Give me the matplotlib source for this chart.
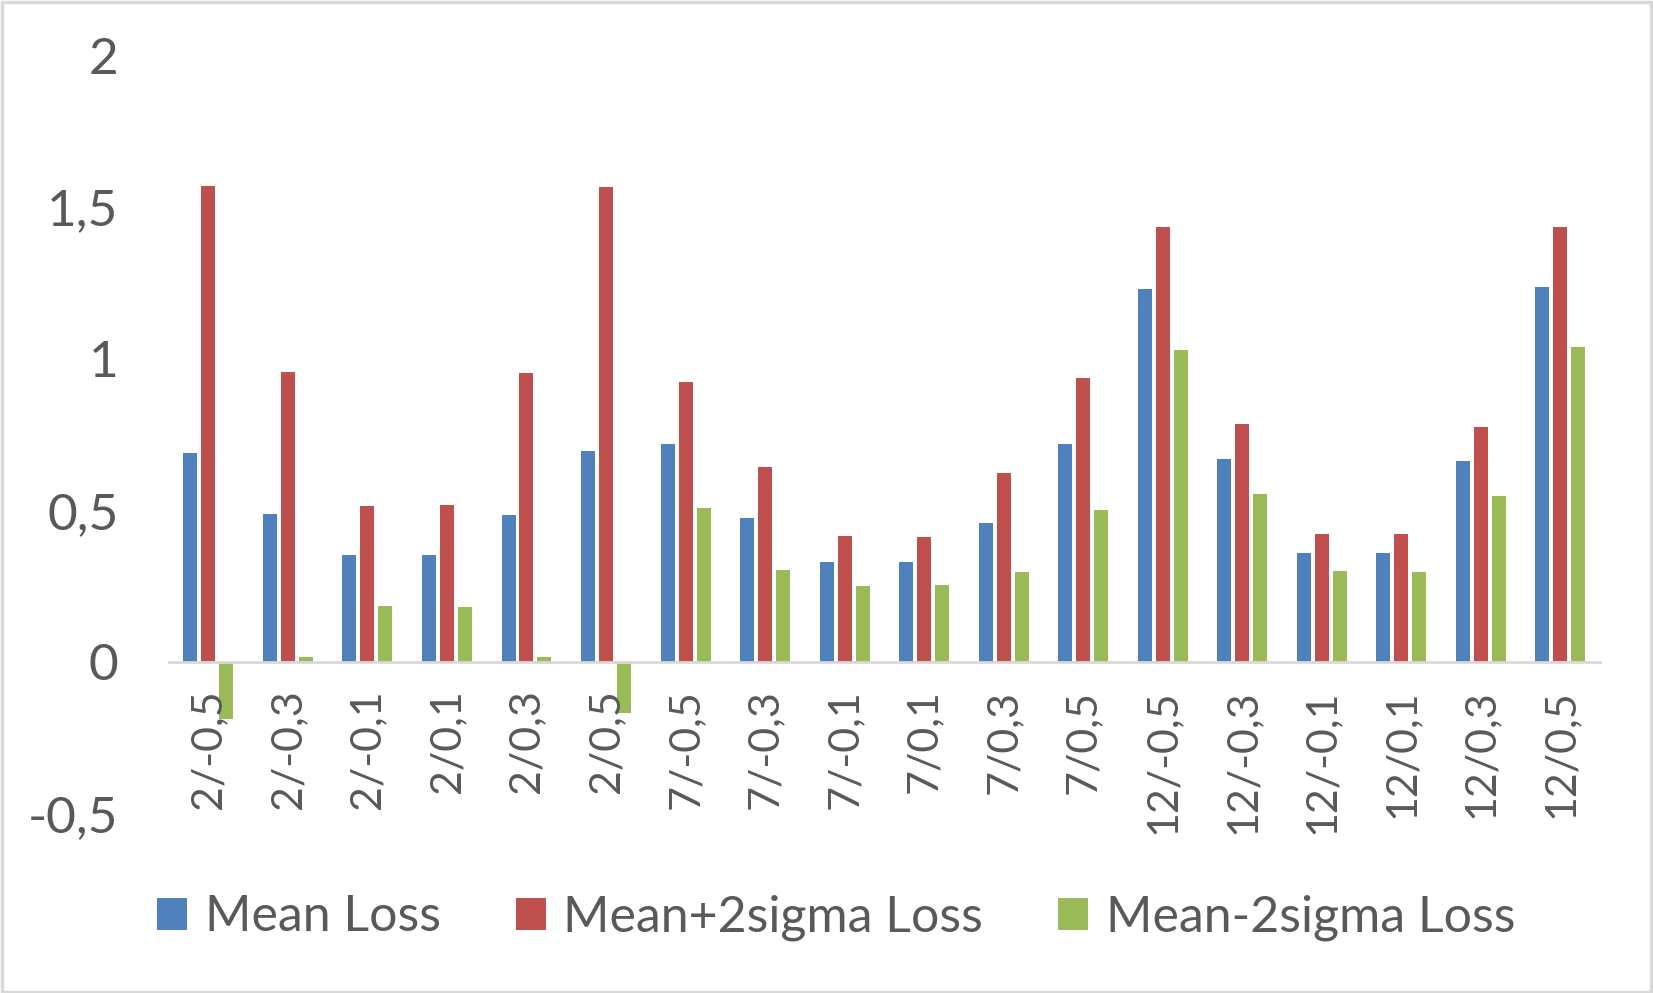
import matplotlib
matplotlib.use('Agg')
from matplotlib import pyplot as plt
from matplotlib.patches import Rectangle
import numpy as np

plt.rcParams['font.family'] = ['Lato', 'DejaVu Sans']

# 类别
categories = ['2/-0,5', '2/-0,3', '2/-0,1', '2/0,1', '2/0,3', '2/0,5',
              '7/-0,5', '7/-0,3', '7/-0,1', '7/0,1', '7/0,3', '7/0,5',
              '12/-0,5', '12/-0,3', '12/-0,1', '12/0,1', '12/0,3', '12/0,5']
# 数据
mean_loss = [0.689, 0.487, 0.351, 0.351, 0.483, 0.696,
             0.717, 0.473, 0.330, 0.330, 0.459, 0.720,
             1.231, 0.668, 0.358, 0.358, 0.661, 1.238]
mean_plus = [1.569, 0.957, 0.515, 0.518, 0.953, 1.565,
             0.922, 0.643, 0.414, 0.410, 0.623, 0.936,
             1.433, 0.783, 0.421, 0.421, 0.776, 1.433]
mean_minus = [-0.188, 0.014, 0.184, 0.181, 0.017, -0.170,
              0.508, 0.303, 0.250, 0.254, 0.296, 0.501,
              1.030, 0.553, 0.299, 0.296, 0.546, 1.037]
yticks = [-0.5, 0, 0.5, 1, 1.5, 2]
ytick_labels = ['-0,5', '0', '0,5', '1', '1,5', '2']

text_color = '#595959'
fig = plt.figure(figsize=(16.53, 9.93), dpi=100)
ax = fig.add_axes([0.102, 0.181, 0.866, 0.763])

x = np.arange(len(categories))
step = 0.226
w = 0.176
ax.bar(x - step, mean_loss, w, color='#4F81BD', label='Mean Loss')
ax.bar(x, mean_plus, w, color='#C0504D', label='Mean+2sigma Loss')
ax.bar(x + step, mean_minus, w, color='#9BBB59', label='Mean-2sigma Loss')

for s in ['top', 'right', 'left']:
    ax.spines[s].set_visible(False)
ax.spines['bottom'].set_position(('data', 0))
ax.spines['bottom'].set_color('#D9D9D9')
ax.spines['bottom'].set_linewidth(2)

ax.set_xlim(-0.5, len(categories) - 0.5)
ax.set_ylim(-0.5, 2)
ax.set_yticks(yticks)
ax.set_yticklabels(ytick_labels)
ax.set_xticks(x)
ax.set_xticklabels(categories)
ax.tick_params(axis='both', length=0, colors=text_color)
ax.tick_params(axis='y', pad=36, labelsize=37)
ax.tick_params(axis='x', pad=20, labelrotation=90, labelsize=31)
for lbl in ax.get_xticklabels():
    lbl.set_va('top')
    lbl.set_ha('center')

fig.legend(loc='center', bbox_to_anchor=(0.506, 0.076), ncol=3, frameon=False,
           fontsize=36, labelcolor=text_color, handlelength=0.6, handleheight=0.6,
           handletextpad=0.35, columnspacing=1.5)

# 外边框
fig.patches.append(Rectangle((0.001, 0.001), 0.998, 0.997, transform=fig.transFigure,
                             fill=False, edgecolor='#D9D9D9', linewidth=2.5))

plt.savefig('out.png', dpi=100)
